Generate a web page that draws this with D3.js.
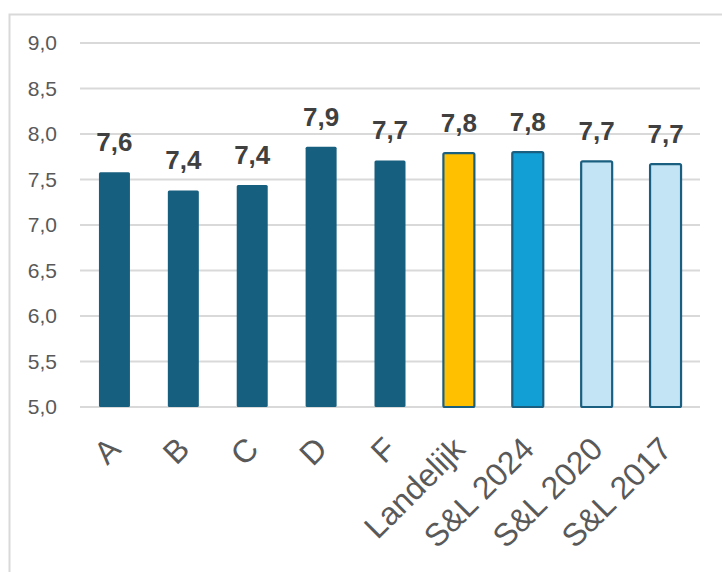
<!DOCTYPE html>
<html>
<head>
<meta charset="utf-8">
<script src="https://cdn.jsdelivr.net/npm/d3@7"></script>
<style>
  body { margin: 0; background: #fff; }
</style>
</head>
<body>
<div id="plot_area"></div>
<script>
// Chart data
const categories = ['A', 'B', 'C', 'D', 'F', 'Landelijk', 'S&L 2024', 'S&L 2020', 'S&L 2017'];
const values = [7.58, 7.38, 7.44, 7.86, 7.71, 7.79, 7.80, 7.70, 7.67];
const valueLabels = ['7,6', '7,4', '7,4', '7,9', '7,7', '7,8', '7,8', '7,7', '7,7'];
const yTicks = [5.0, 5.5, 6.0, 6.5, 7.0, 7.5, 8.0, 8.5, 9.0];

// Fill per bar kind
const fills = ['#175f7f', '#175f7f', '#175f7f', '#175f7f', '#175f7f', '#ffc000', '#119fd6', '#c3e4f4', '#c3e4f4'];
const outlined = [false, false, false, false, false, true, true, true, true];

const w = 722;
const h = 572;

const svg = d3.select('#plot_area')
  .append('svg')
  .attr('width', w)
  .attr('height', h);

// Outer chart border (cut off at right and bottom)
svg.append('rect')
  .attr('x', 9.5)
  .attr('y', 14.5)
  .attr('width', 800)
  .attr('height', 700)
  .attr('fill', 'none')
  .attr('stroke', '#d9d9d9')
  .attr('stroke-width', 2);

// Scales
const xScale = d3.scaleBand()
  .domain(categories)
  .range([80, 700])
  .paddingInner(0.55)
  .paddingOuter(0.275);

const yScale = d3.scaleLinear()
  .domain([5, 9])
  .range([407, 43]);

// Gridlines
svg.append('g')
  .selectAll('line')
  .data(yTicks)
  .enter()
  .append('line')
  .attr('x1', 80)
  .attr('x2', 700)
  .attr('y1', (d) => yScale(d))
  .attr('y2', (d) => yScale(d))
  .attr('stroke', '#d9d9d9')
  .attr('stroke-width', 2);

// Y-axis labels
const yAxis = svg.append('g')
  .attr('transform', 'translate(57,0)')
  .call(d3.axisLeft(yScale)
    .tickValues(yTicks)
    .tickSize(0)
    .tickPadding(0)
    .tickFormat((d) => d3.format('.1f')(d).replace('.', ',')));
yAxis.select('.domain').remove();
yAxis.selectAll('text')
  .style('font-family', 'Liberation Sans, Arial, sans-serif')
  .style('font-size', '21px')
  .attr('fill', '#595959');

// Bars
svg.selectAll('rect.bar')
  .data(categories)
  .enter()
  .append('rect')
  .attr('class', 'bar')
  .attr('x', (d) => xScale(d))
  .attr('width', xScale.bandwidth())
  .attr('y', (d, i) => yScale(values[i]))
  .attr('height', (d, i) => yScale(5) - yScale(values[i]))
  .attr('rx', 1.5)
  .attr('fill', (d, i) => fills[i])
  .attr('stroke', (d, i) => outlined[i] ? '#1b5f80' : 'none')
  .attr('stroke-width', 2.2);

// Value labels
svg.selectAll('text.val')
  .data(categories)
  .enter()
  .append('text')
  .attr('class', 'val')
  .attr('x', (d) => xScale(d) + xScale.bandwidth() / 2)
  .attr('y', (d, i) => yScale(values[i]) - 21)
  .attr('text-anchor', 'middle')
  .style('font-family', 'Liberation Sans, Arial, sans-serif')
  .style('font-size', '26px')
  .style('font-weight', 'bold')
  .attr('fill', '#404040')
  .text((d, i) => valueLabels[i]);

// X-axis labels, rotated
svg.selectAll('text.cat')
  .data(categories)
  .enter()
  .append('text')
  .attr('class', 'cat')
  .attr('text-anchor', 'end')
  .attr('transform', (d) => 'translate(' + (xScale(d) + xScale.bandwidth() / 2 + 8) + ',451)rotate(-45)')
  .style('font-family', 'Liberation Sans, Arial, sans-serif')
  .style('font-size', '32px')
  .attr('fill', '#595959')
  .text((d) => d);
</script>
</body>
</html>
